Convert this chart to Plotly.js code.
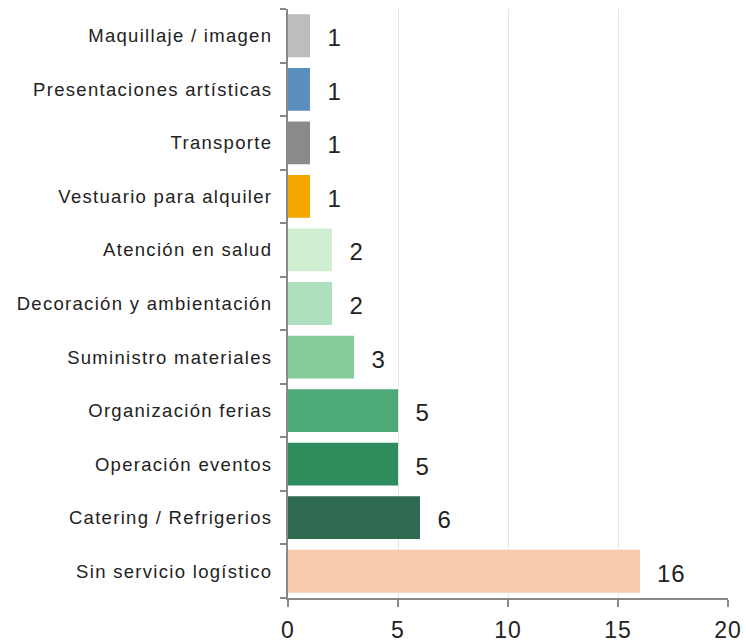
<!DOCTYPE html>
<html>
<head>
<meta charset="utf-8">
<script src="https://cdn.plot.ly/plotly-3.0.1.min.js"></script>
<style>
  html, body { margin: 0; padding: 0; background: #fff; }
  #plot { width: 746px; height: 643px; }
  /* el original tiene letras algo espaciadas */
  #plot .ytick text { letter-spacing: 1.3px; }
  #plot .xtick text { letter-spacing: 1px; }
  #plot .annotation-text { letter-spacing: 1px; }
</style>
</head>
<body>
<div id="plot"></div>
<script>
// categorias de abajo hacia arriba
const categorias = [
  'Sin servicio logístico',
  'Catering / Refrigerios',
  'Operación eventos',
  'Organización ferias',
  'Suministro materiales',
  'Decoración y ambientación',
  'Atención en salud',
  'Vestuario para alquiler',
  'Transporte',
  'Presentaciones artísticas',
  'Maquillaje / imagen'
];
const valores = [16, 6, 5, 5, 3, 2, 2, 1, 1, 1, 1];
const colores = [
  '#f7caab', '#2d6a4f', '#2e8b5c', '#4daa78', '#86cc98', '#aedfbf',
  '#d0eed1', '#f2a600', '#8a8a8a', '#5b8fbd', '#bdbdbd'
];
const ticksX = [0, 5, 10, 15, 20];

const trace = {
  type: 'bar',
  orientation: 'h',
  x: valores,
  y: categorias,
  marker: {color: colores, line: {width: 0}},
  hoverinfo: 'x+y'
};

// etiquetas de valor a la derecha de cada barra
const etiquetas = valores.map((v, i) => ({
  x: v, y: categorias[i], xref: 'x', yref: 'y',
  text: String(v), showarrow: false,
  xanchor: 'left', xshift: 16, yshift: -2,
  font: {size: 24, color: '#222'}
}));

const layout = {
  width: 746, height: 643,
  margin: {l: 288, r: 18, t: 9, b: 45},
  paper_bgcolor: '#fff',
  plot_bgcolor: '#fff',
  font: {family: 'Liberation Sans, Arial, sans-serif', color: '#222'},
  bargap: 0.2,
  showlegend: false,
  xaxis: {
    range: [0, 20],
    tickvals: ticksX,
    ticks: 'outside', ticklen: 7, tickwidth: 2, tickcolor: '#888',
    showline: true, linecolor: '#888', linewidth: 2,
    showgrid: true, gridcolor: '#e6e6e6', gridwidth: 1,
    zeroline: false,
    tickfont: {size: 23, color: '#222'},
    ticklabelstandoff: 3,
    fixedrange: true
  },
  yaxis: {
    type: 'category',
    ticks: 'outside', ticklen: 6, tickwidth: 2, tickcolor: '#888',
    showline: true, linecolor: '#888', linewidth: 2,
    showgrid: false,
    tickson: 'boundaries',
    tickfont: {size: 18.5, color: '#222'},
    ticklabelstandoff: 10,
    fixedrange: true
  },
  annotations: etiquetas
};

Plotly.newPlot('plot', [trace], layout, {displayModeBar: false, staticPlot: true});
</script>
</body>
</html>
